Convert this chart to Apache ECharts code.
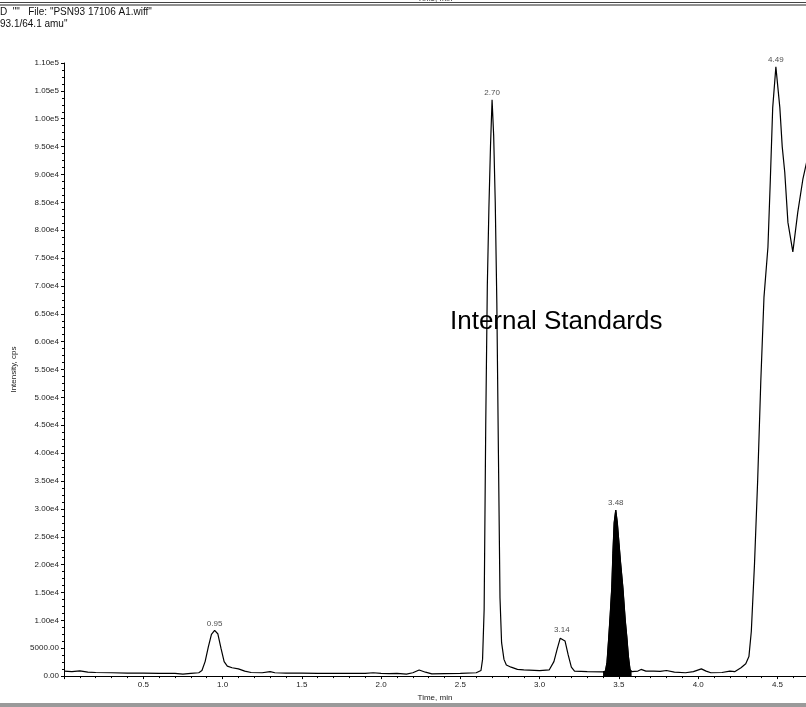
<!DOCTYPE html>
<html>
<head>
<meta charset="utf-8">
<script src="https://cdn.jsdelivr.net/npm/echarts@6/dist/echarts.min.js"></script>
<style>
html,body{margin:0;padding:0;background:#fff;}
#c{width:806px;height:707px;}
</style>
</head>
<body>
<div id="c"></div>
<script>
// XIC trace: retention time (min) and intensity (cps)
const times = [
  0.00, 0.05, 0.10, 0.15, 0.20, 0.30, 0.40, 0.50, 0.60, 0.70, 0.75, 0.80, 0.85,
  0.87, 0.89, 0.91, 0.93, 0.95, 0.97, 0.99, 1.01, 1.03, 1.06, 1.10, 1.14, 1.18,
  1.25, 1.30, 1.33, 1.40, 1.50, 1.60, 1.70, 1.80, 1.90, 1.95, 2.00, 2.05, 2.10,
  2.16, 2.20, 2.24, 2.28, 2.32, 2.40, 2.50, 2.60, 2.63, 2.64, 2.65, 2.66, 2.67,
  2.68, 2.69, 2.70, 2.71, 2.72, 2.73, 2.74, 2.75, 2.76, 2.775, 2.79, 2.82, 2.86,
  2.90, 3.00, 3.06, 3.09, 3.11, 3.13, 3.14, 3.16, 3.18, 3.20, 3.22, 3.30, 3.40,
  3.415, 3.425, 3.436, 3.445, 3.455, 3.462, 3.47, 3.48, 3.49, 3.50, 3.51, 3.525,
  3.54, 3.55, 3.56, 3.57, 3.58, 3.62, 3.64, 3.67, 3.72, 3.76, 3.80, 3.85, 3.92,
  3.97, 4.02, 4.05, 4.08, 4.15, 4.20, 4.23, 4.27, 4.30, 4.32, 4.335, 4.355, 4.375,
  4.395, 4.415, 4.44, 4.455, 4.47, 4.49, 4.515, 4.53, 4.546, 4.566, 4.597, 4.628,
  4.66, 4.69
];
const intensities = [
  900, 800, 950, 700, 650, 600, 550, 550, 500, 500, 350, 500, 600,
  1000, 2600, 5200, 7500, 8200, 7600, 5000, 2600, 1800, 1500, 1300, 900, 650,
  600, 800, 600, 550, 550, 500, 500, 500, 500, 600, 500, 450, 500,
  350, 600, 1100, 700, 400, 450, 500, 600, 1000, 3000, 12000, 45000, 70000,
  84000, 95000, 103400, 97000, 85000, 67000, 40000, 14000, 6000, 3000, 2000, 1600, 1200,
  1100, 1000, 1100, 2600, 4800, 6800, 7100, 6300, 3800, 1600, 900, 800, 750,
  900, 2500, 7000, 11000, 15900, 22000, 27500, 29800, 27500, 24000, 20500, 15900,
  10000, 7000, 3500, 1200, 800, 900, 1200, 900, 900, 850, 1000, 700, 600,
  800, 1300, 900, 600, 650, 900, 800, 1500, 2200, 3500, 8000, 20000, 35000,
  53000, 68000, 77000, 89000, 102000, 109300, 102000, 95000, 90400, 81400, 76100, 83200,
  89100, 93000
];

// Annotated peak apexes (retention times)
const peakTimes = [0.95, 2.70, 3.14, 3.48, 4.49];
// Integrated internal-standard peak, shaded
const shadedRange = [3.40, 3.58];

const header1 = 'D  ""   File: "PSN93 17106 A1.wiff"';
const header2 = '93.1/64.1 amu"';
const noteText = 'Internal Standards';

const FONT = '"Liberation Sans", Arial, sans-serif';

const trace = times.map((t, i) => [t, intensities[i]]);
const shaded = trace.filter(p => p[0] >= shadedRange[0] && p[0] <= shadedRange[1]);
const peaks = peakTimes.map(t => [t, intensities[times.indexOf(t)]]);

function yLabel(v) {
  if (v === 0) return '0.00';
  if (v < 10000) return v.toFixed(2);
  const e = Math.floor(Math.log10(v));
  return (v / Math.pow(10, e)).toFixed(2) + 'e' + e;
}

const chart = echarts.init(document.getElementById('c'), null, { renderer: 'canvas' });
chart.setOption({
  animation: false,
  backgroundColor: '#fff',
  grid: { left: 64, right: 0, top: 63, bottom: 28, containLabel: false },
  xAxis: {
    type: 'value', min: 0, max: 4.68, interval: 0.5,
    name: 'Time, min', nameLocation: 'middle', nameGap: 17,
    nameTextStyle: { fontFamily: FONT, fontSize: 8, color: '#222' },
    axisLine: { lineStyle: { color: '#000', width: 1 } },
    axisTick: { show: true, inside: false, length: 3, lineStyle: { color: '#000' } },
    minorTick: { show: true, splitNumber: 5, length: 2, lineStyle: { color: '#000' } },
    axisLabel: {
      showMinLabel: false, showMaxLabel: false, margin: 5,
      fontFamily: FONT, fontSize: 8, color: '#222',
      formatter: v => (v === 0 ? '' : v.toFixed(1))
    },
    splitLine: { show: false }
  },
  yAxis: {
    type: 'value', min: 0, max: 110000, interval: 5000,
    name: 'Intensity, cps', nameLocation: 'middle', nameGap: 46,
    nameTextStyle: { fontFamily: FONT, fontSize: 8, color: '#222' },
    axisLine: { show: true, lineStyle: { color: '#000', width: 1 } },
    axisTick: { show: true, inside: false, length: 3, lineStyle: { color: '#000' } },
    minorTick: { show: true, splitNumber: 4, length: 2, lineStyle: { color: '#000' } },
    axisLabel: { margin: 5, fontFamily: FONT, fontSize: 8, color: '#222', formatter: yLabel },
    splitLine: { show: false }
  },
  series: [
    {
      type: 'line', data: shaded, symbol: 'none', silent: true,
      lineStyle: { color: '#000', width: 1 },
      areaStyle: { color: '#000', opacity: 1, origin: 'start' },
      z: 2
    },
    {
      type: 'line', data: trace, symbol: 'none', smooth: false,
      lineStyle: { color: '#000', width: 1.2 },
      z: 3
    },
    {
      type: 'scatter', data: peaks, symbolSize: 0, z: 4,
      label: {
        show: true, position: 'top', distance: 3,
        fontFamily: FONT, fontSize: 8, color: '#222',
        formatter: p => p.value[0].toFixed(2)
      }
    }
  ],
  graphic: [
    { type: 'line', shape: { x1: 0, y1: 2.5, x2: 806, y2: 2.5 }, style: { stroke: '#444', lineWidth: 1 } },
    { type: 'line', shape: { x1: 0, y1: 5, x2: 806, y2: 5 }, style: { stroke: '#222', lineWidth: 1 } },
    { type: 'text', x: 435, y: -5, style: { text: 'Time, min', font: '8px ' + FONT, fill: '#222', textAlign: 'center' } },
    { type: 'text', x: 0, y: 7, style: { text: header1, font: '10px ' + FONT, fill: '#111' } },
    { type: 'text', x: 0, y: 19, style: { text: header2, font: '10px ' + FONT, fill: '#111' } },
    { type: 'text', x: 450, y: 309, style: { text: noteText, font: '26px ' + FONT, fill: '#000' } },
    { type: 'rect', shape: { x: 0, y: 703, width: 806, height: 4 }, style: { fill: '#9a9a9a' } }
  ]
});
</script>
</body>
</html>
